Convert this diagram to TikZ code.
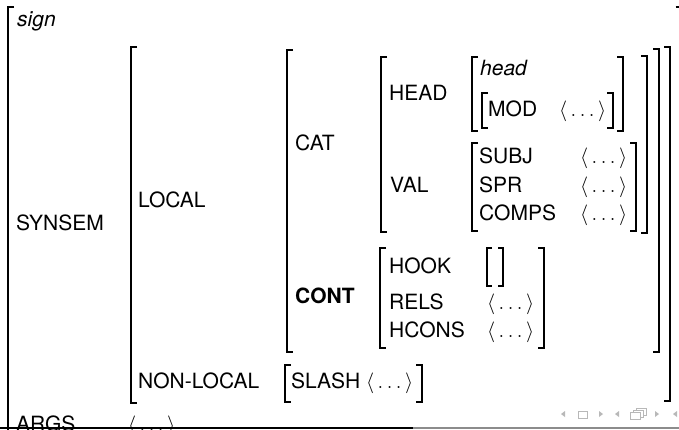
\documentclass[tikz,border=0pt]{standalone}
\usepackage{fontspec}
\setmainfont{TeX Gyre Heros}
\newcommand\avmfs{\fontsize{21}{25}\selectfont}
\newcommand\avmlist{$\langle\,\ldots\,\rangle$}
\newcommand\lbrk[4][6]{\draw[brk] (#2+#1,#3) -- (#2,#3) -- (#2,#4) -- (#2+#1,#4);}
\newcommand\rbrk[4][6]{\draw[brk] (#2-#1,#3) -- (#2,#3) -- (#2,#4) -- (#2-#1,#4);}
\tikzset{
  brk/.style={line width=1.2pt, black},
  txt/.style={anchor=base west, inner sep=0pt, font=\avmfs},
  navsym/.style={black!28},
}
\begin{document}
\begin{tikzpicture}[x=1pt,y=-1pt]
\clip (0,0) rectangle (679,429);
\fill[white] (0,0) rectangle (679,429);

% outer sign brackets
\lbrk{8}{7}{445}
\rbrk{681.5}{7}{445}
\node[txt] (sign) at (17,26) {\itshape sign};

% SYNSEM
\node[txt] (synsem) at (16,230) {SYNSEM};
\lbrk{131}{47}{403}
\rbrk{670}{47}{401}

% LOCAL
\node[txt] (local) at (138,207) {LOCAL};
\lbrk{287}{50}{352}
\rbrk{659}{49}{352}

% CAT
\node[txt] (cat) at (295,150) {CAT};
\lbrk{381}{57}{232}
\rbrk{647}{56}{233}

% HEAD
\node[txt] (headf) at (389,100) {HEAD};
\lbrk{472}{57}{131}
\rbrk{623}{57}{131}
\node[txt] (headt) at (480,75) {\itshape head};
\lbrk{482}{93}{128}
\rbrk{613}{93}{128}
\node[txt] (mod) at (488,116) {MOD};
\node[txt] (modv) at (559,116) {\avmlist};

% VAL
\node[txt] (val) at (390,192) {VAL};
\lbrk{472}{143}{231}
\rbrk{636}{143}{231}
\node[txt] (subj) at (479,163) {SUBJ};
\node[txt] (subjv) at (580,163) {\avmlist};
\node[txt] (spr) at (479,192) {SPR};
\node[txt] (sprv) at (580,192) {\avmlist};
\node[txt] (comps) at (479,220) {COMPS};
\node[txt] (compsv) at (580,220) {\avmlist};

% CONT
\node[txt] (cont) at (295,303) {\bfseries CONT};
\lbrk{380}{248}{348}
\rbrk{544}{248}{348}
\node[txt] (hook) at (389,273) {HOOK};
\lbrk[5]{487}{248}{286}
\rbrk[5]{503}{248}{286}
\node[txt] (rels) at (389,309) {RELS};
\node[txt] (relsv) at (487,309) {\avmlist};
\node[txt] (hcons) at (389,337) {HCONS};
\node[txt] (hconsv) at (487,337) {\avmlist};

% NON-LOCAL
\node[txt] (nonlocal) at (138,388) {NON-LOCAL};
\lbrk{285}{365}{402}
\rbrk{422}{365}{402}
\node[txt] (slash) at (291,388) {SLASH};
\node[txt] (slashv) at (366,388) {\avmlist};

% ARGS (cut off by the frame edge, as in the reference)
\node[txt] (args) at (16,431) {ARGS};
\node[txt] (argsv) at (128,431) {\avmlist};

% footline
\draw[line width=1.6pt, black] (0,427.8) -- (413,427.8);
\draw[line width=1.2pt, black!45] (413,428) -- (679,428);

% navigation symbols
\fill[navsym] (565,411) -- (561,414) -- (565,417) -- cycle;
\draw[navsym, line width=0.8pt] (578,411) rectangle (587,418);
\fill[navsym] (599,411) -- (603,414) -- (599,417) -- cycle;
\fill[navsym] (619,411) -- (615,414) -- (619,417) -- cycle;
\draw[navsym, line width=0.8pt, fill=white] (636,408.5) rectangle (646,415);
\draw[navsym, line width=0.8pt, fill=white] (633,410.5) rectangle (643,417);
\draw[navsym, line width=0.8pt, fill=white] (630,412.5) rectangle (640,419);
\fill[navsym] (655,411) -- (659,414) -- (655,417) -- cycle;
\fill[navsym] (677,411) -- (673,414) -- (677,417) -- cycle;
\end{tikzpicture}
\end{document}
